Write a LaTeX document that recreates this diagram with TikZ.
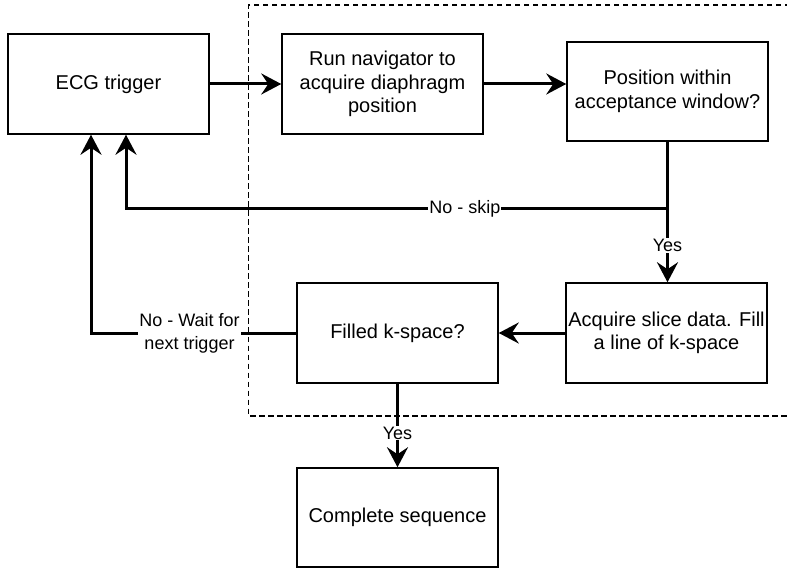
\documentclass[tikz,border=0pt]{standalone}
\usepackage{fontspec}
\setmainfont{Liberation Sans}
\usetikzlibrary{arrows.meta}

\begin{document}
\begin{tikzpicture}[x=1pt, y=-1pt,
		box/.style={draw, line width=1.5pt, fill=white, minimum width=201pt, minimum height=100pt,
			inner sep=0pt, align=center, font=\fontsize{20}{23.5}\selectfont},
		flow/.style={line width=3pt, -{Stealth[length=20pt, width=21pt, inset=7pt]}},
		lbl/.style={fill=white, inner sep=1pt, align=center, font=\fontsize{18}{22.7}\selectfont}]
	\useasboundingbox (0,0) rectangle (787,569);

	% Draw the dashed frame round the gated part
	\draw[line width=1.5pt, dash pattern=on 5.5pt off 3.5pt] (790,5) -- (248.5,5) -- (248.5,416) -- (790,416);

	% Draw the boxes
	\node[box] (ecg) at (108.5,84) {ECG trigger};
	\node[box] (nav) at (382.5,84) {Run navigator to\\acquire diaphragm\\position};
	\node[box, minimum height=99pt] (pos) at (667.5,91.5) {Position within\\acceptance window?};
	\node[box] (acq) at (666.5,333) {Acquire slice data. Fill\\a line of k-space};
	\node[box] (fill) at (397.5,333) {Filled k-space?};
	\node[box, minimum height=99pt] (done) at (397.5,517.5) {Complete sequence};

	% Corners of the two loops back
	\coordinate (skipturn) at (126,209);
	\coordinate (waitturn) at (91,333);

	% Draw the arrows
	\draw[flow] (ecg.east) -- (nav.west);
	\draw[flow] (nav.east) -- (nav.east -| pos.west);
	\draw[flow] (pos.south) |- (skipturn) node[lbl, pos=0.687] {No - skip} -- (skipturn |- ecg.south);
	\draw[flow] (pos.south) -- (pos.south |- acq.north) node[lbl, pos=0.74] {Yes};
	\draw[flow] (acq.west) -- (fill.east);
	\draw[flow] (fill.west) -- (waitturn) node[lbl, pos=0.52] {No - Wait for\\next trigger} -- (waitturn |- ecg.south);
	\draw[flow] (fill.south) -- (done.north) node[lbl, pos=0.59] {Yes};

\end{tikzpicture}
\end{document}
